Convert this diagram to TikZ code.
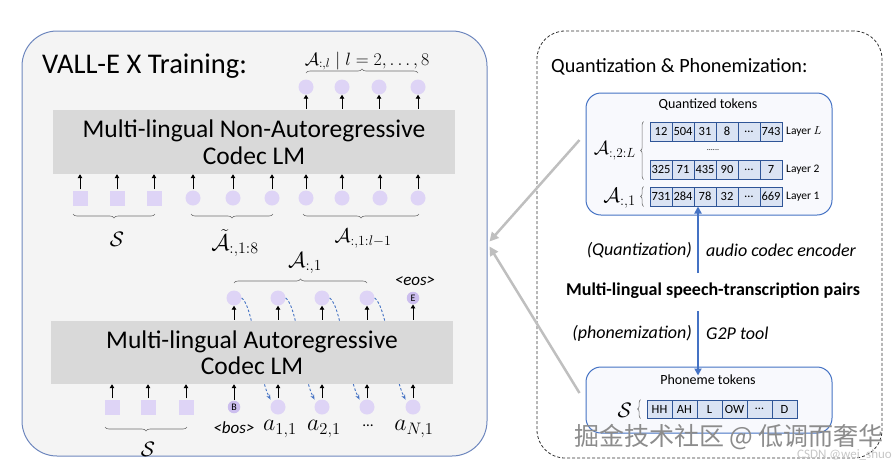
\RequirePackage{fix-cm}
\documentclass[tikz,border=0pt]{standalone}
\usepackage{fontspec}
\setmainfont{Carlito}
\newfontfamily\cjkfont{Noto Sans CJK SC}
\usetikzlibrary{arrows.meta,decorations.pathreplacing,calc}
\newcommand\fsz[1]{\fontsize{#1}{#1}\selectfont}
\definecolor{panelfill}{RGB}{244,244,244}
\definecolor{panelline}{RGB}{110,135,190}
\definecolor{lmgray}{RGB}{217,217,217}
\definecolor{tok}{RGB}{222,212,246}
\definecolor{tokdark}{RGB}{204,190,238}
\definecolor{accent}{RGB}{68,114,196}
\definecolor{celllight}{RGB}{218,227,243}
\definecolor{celldark}{RGB}{47,85,151}
\definecolor{arrgray}{RGB}{191,191,191}
\definecolor{brcgray}{RGB}{110,110,110}
\tikzset{
  panel/.style={draw=panelline, fill=panelfill, line width=1pt, rounded corners=35pt, inner sep=0},
  dashpanel/.style={draw=black!80, dash pattern=on 3pt off 2pt, line width=0.8pt, rounded corners=28pt, inner sep=0},
  lmbox/.style={fill=lmgray, align=center, inner sep=0, font=\fontsize{25.5}{26.5}\selectfont},
  tokc/.style={circle, fill=tok, minimum size=15pt, inner sep=0},
  toks/.style={rectangle, fill=tok, minimum size=15pt, inner sep=0},
  tokm/.style={circle, fill=tokdark, minimum size=12.5pt, inner sep=0, font=\fsz{10}},
  arr/.style={-{Triangle[length=4pt,width=4.5pt]}, line width=0.9pt, shorten <=1pt},
  dasharr/.style={-{Stealth[length=5pt,width=4pt]}, accent, dash pattern=on 2.5pt off 2pt, line width=0.9pt},
  brc/.style={decorate, decoration={brace, amplitude=4pt}, draw=brcgray, line width=0.6pt},
  alab/.style={font=\fsz{19}, inner sep=0},
  tbox/.style={draw=accent, fill=white!96!accent, line width=1pt, rounded corners=15pt, inner sep=0},
  cell/.style={draw=celldark, fill=celllight, line width=0.7pt, minimum width=22pt, minimum height=19pt, inner sep=0, font=\fsz{12.5}},
  pcell/.style={draw=celldark, fill=celllight, line width=0.7pt, minimum width=25pt, minimum height=18pt, inner sep=0, font=\fsz{12.5}},
  layer/.style={anchor=west, font=\fsz{11.5}, inner sep=0},
  bluearr/.style={-{Triangle[length=7pt,width=7pt]}, accent, line width=2.5pt},
  grayarr/.style={-{Triangle[length=9pt,width=9pt]}, arrgray, line width=2.5pt},
  midlab/.style={font=\itshape\fsz{18}, inner sep=0},
  tlab/.style={font=\itshape\fsz{17}, inner sep=0}
}
\begin{document}
\begin{tikzpicture}[x=1pt,y=-1pt]
\useasboundingbox (0,0) rectangle (895,467);

% ---------------- left panel ----------------
\node[panel, minimum width=465pt, minimum height=425pt] (left) at (254.5,243.5) {};
\node[anchor=base west, font=\fsz{28.5}, inner sep=0] (title) at (42,73) {VALL-E X Training:};

% NAR
\node[lmbox, minimum width=402pt, minimum height=64pt] (nar) at (254,142) {Multi-lingual Non-Autoregressive\\Codec LM};
\foreach \x [count=\i] in {306,342,379,418}
  \node[tokc] (o\i) at (\x,87) {};
\foreach \i in {1,...,4}
  \draw[arr] (o\i |- nar.north) -- (o\i);
\draw[brc] ($(o1)+(0,-14)$) -- ($(o4)+(0,-14)$);
\node[font=\fsz{17}, inner sep=0] (lo) at (367,61) {\scalebox{1.05}{$\mathcal{A}_{:,l}\mid l=2,\ldots,8$}};

\foreach \x [count=\i] in {80,117,154}
  \node[toks] (s\i) at (\x,198) {};
\foreach \x [count=\i] in {193,233,272}
  \node[tokc] (c\i) at (\x,198) {};
\foreach \x [count=\i] in {306,342,380,418}
  \node[tokc] (d\i) at (\x,198) {};
\foreach \n in {s1,s2,s3,c1,c2,c3,d1,d2,d3,d4}
  \draw[arr] (\n) -- (\n |- nar.south);
\draw[brc] ($(s3)+(1,16)$) -- ($(s1)+(-7,16)$);
\draw[brc] ($(c3)+(1,16)$) -- ($(c1)+(-2,16)$);
\draw[brc] ($(d4)+(1,16)$) -- ($(d1)+(-3,16)$);
\node[alab] (ls1) at (117,239) {\scalebox{1.1}{$\mathcal{S}$}};
\node[alab] (lc) at (235,243) {\scalebox{1.2}{$\tilde{\mathcal{A}}_{:,1:8}$}};
\node[alab] (ld) at (363,239) {\scalebox{1.05}{$\mathcal{A}_{:,1:l-1}$}};

% AR
\foreach \x [count=\i] in {234,278,322,367}
  \node[tokc] (t\i) at (\x,298) {};
\node[tokm] (te) at (413,298) {E};
\node[tlab] (eos) at (415,281) {<eos>};
\draw[brc] ($(t1)+(0,-15)$) -- ($(t4)+(0,-15)$);
\node[alab] (la1) at (305,263) {\scalebox{1.15}{$\mathcal{A}_{:,1}$}};

\foreach \x [count=\i] in {112,148,186}
  \node[toks] (u\i) at (\x,407) {};
\node[tokm] (bb) at (234,407) {B};
\foreach \x [count=\i] in {278,322,367,413}
  \node[tokc] (a\i) at (\x,407) {};

\foreach \i in {1,...,4}
  \draw[dasharr] (t\i.east) .. controls +(12,8) and +(-12,-22) .. ([shift={(-2,-2)}]a\i.north west);

\node[lmbox, minimum width=402pt, minimum height=63pt] (ar) at (252,352.5) {Multi-lingual Autoregressive\\Codec LM};
\foreach \n in {t1,t2,t3,t4,te}
  \draw[arr] (\n |- ar.north) -- (\n);
\foreach \n in {u1,u2,u3,bb,a1,a2,a3,a4}
  \draw[arr] (\n) -- (\n |- ar.south);

\node[tlab] (bos) at (234,428) {<bos>};
\node[alab] (la1b) at (280,429) {\scalebox{1.25}{$a_{1,1}$}};
\node[alab] (la2b) at (324,429) {\scalebox{1.25}{$a_{2,1}$}};
\node[font=\fsz{15}, inner sep=0] (ldots) at (368,426) {…};
\node[alab] (laN) at (414,429) {\scalebox{1.25}{$a_{N,1}$}};
\draw[brc] ($(u3)+(1,20)$) -- ($(u1)+(-7,20)$);
\node[alab] (ls2) at (148,449) {\scalebox{1.1}{$\mathcal{S}$}};

% ---------------- right panel ----------------
\node[dashpanel, minimum width=345pt, minimum height=427pt] (right) at (709.5,244.5) {};
\node[anchor=base west, font=\fsz{20.2}, inner sep=0] (rtitle) at (551,72) {Quantization \& Phonemization:};

\node[tbox, minimum width=246pt, minimum height=122pt] (qbox) at (709,154) {};
\node[font=\fsz{14}, inner sep=0] (qt) at (708,105) {Quantized tokens};
\foreach \t [count=\i] in {12,504,31,8,…,743}
  \node[cell] (qL\i) at ({650+22*(\i-0.5)},131.5) {\t};
\foreach \t [count=\i] in {325,71,435,90,…,7}
  \node[cell] (qB\i) at ({650+22*(\i-0.5)},169.5) {\t};
\foreach \t [count=\i] in {731,284,78,32,…,669}
  \node[cell] (qA\i) at ({650+22*(\i-0.5)},196.5) {\t};
\node[font=\fsz{8}, inner sep=0] (qdots) at (713,150) {......};
\node[layer] (lyL) at (786,131.5) {Layer $L$};
\node[layer] (ly2) at (786,169.5) {Layer 2};
\node[layer] (ly1) at (786,196.5) {Layer 1};
\draw[brc, decoration={brace, amplitude=3pt}] ($(qB1.south west)+(-6,0)$) -- ($(qL1.north west)+(-6,0)$);
\draw[brc, decoration={brace, amplitude=3pt}] ($(qA1.south west)+(-6,0)$) -- ($(qA1.north west)+(-6,0)$);
\node[alab, anchor=east] (la2L) at (636,151) {$\mathcal{A}_{:,2:L}$};
\node[alab, anchor=east] (la1r) at (636,198) {\scalebox{1.1}{$\mathcal{A}_{:,1}$}};

\node[font=\bfseries\fsz{18}, inner sep=0] (pairs) at (713,291) {Multi-lingual speech-transcription pairs};
\coordinate (ua) at (698,273);
\coordinate (da) at (698,311);
\draw[bluearr] (ua) -- ([yshift=9pt]ua |- qbox.south);
\node[tbox, minimum width=246pt, minimum height=66pt] (pbox) at (709,400) {};
\draw[bluearr] (da) -- ([yshift=-9pt]da |- pbox.north);
\node[midlab, anchor=east] (lq) at (692,250) {(Quantization)};
\node[midlab, anchor=west] (lae) at (706,250) {audio codec encoder};
\node[midlab, anchor=east] (lp) at (692,333) {(phonemization)};
\node[midlab, anchor=west] (lg) at (706,333) {G2P tool};

\node[font=\fsz{14}, inner sep=0] (pt) at (708,380) {Phoneme tokens};
\foreach \t [count=\i] in {HH,AH,L,OW,…,D}
  \node[pcell] (p\i) at ({647+25*(\i-0.5)},409) {\t};
\draw[brc, decoration={brace, amplitude=3pt}] ($(p1.south west)+(-6,0)$) -- ($(p1.north west)+(-6,0)$);
\node[alab, anchor=east] (lsr) at (632,410) {\scalebox{1.1}{$\mathcal{S}$}};

% gray connectors
\draw[grayarr] ($(qbox.west)+(-6,-14)$) -- ($(left.east)+(2,-2)$);
\draw[grayarr] ($(pbox.west)+(-6,-7)$) -- ($(left.east)+(2,3)$);

% watermark
\node[font=\cjkfont\fsz{25}, text=black!45, inner sep=0] (wm) at (729,437) {掘金技术社区 @ 低调而奢华};
\node[font=\fsz{13}, text=black!22, inner sep=0, anchor=east] (wm2) at (892,455) {CSDN @wei\_shuo};
\end{tikzpicture}
\end{document}
